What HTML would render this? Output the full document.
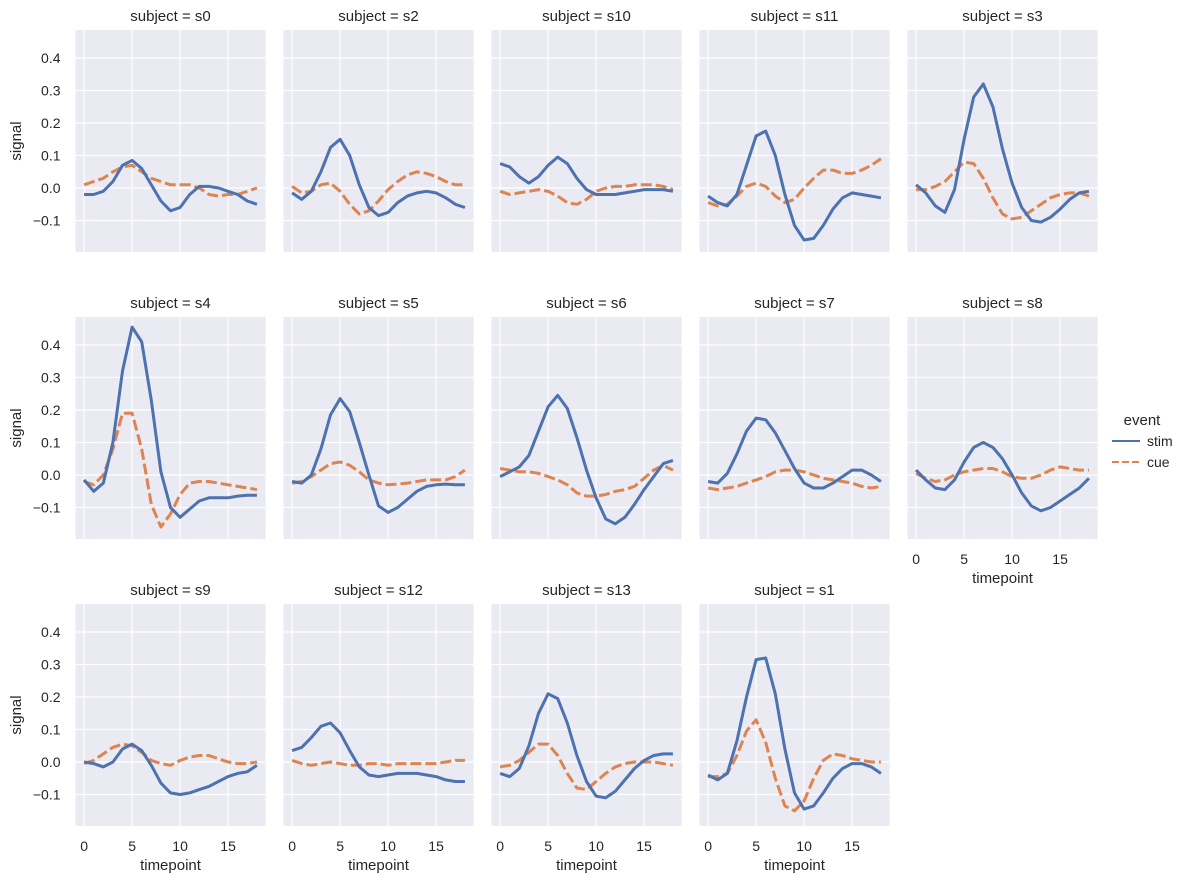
<!DOCTYPE html>
<html><head><meta charset="utf-8">
<style>
body{margin:0;background:#fff;}
svg{display:block;font-family:"Liberation Sans","DejaVu Sans",sans-serif;}
</style></head>
<body>
<svg id="chart" width="1196" height="884" viewBox="0 0 1196 884" xmlns="http://www.w3.org/2000/svg"></svg>
<script>
const timepoints = [0,1,2,3,4,5,6,7,8,9,10,11,12,13,14,15,16,17,18];
const subjects = ["s0","s2","s10","s11","s3","s4","s5","s6","s7","s8","s9","s12","s13","s1"];
const stimValues = [
 [-0.02,-0.02,-0.01,0.02,0.07,0.085,0.06,0.01,-0.04,-0.07,-0.06,-0.02,0.005,0.005,0,-0.01,-0.02,-0.04,-0.05],
 [-0.015,-0.035,-0.01,0.05,0.125,0.15,0.10,0.01,-0.06,-0.085,-0.075,-0.045,-0.025,-0.015,-0.01,-0.015,-0.03,-0.05,-0.06],
 [0.075,0.065,0.035,0.015,0.035,0.07,0.095,0.075,0.03,-0.005,-0.02,-0.02,-0.02,-0.015,-0.01,-0.005,-0.005,-0.005,-0.01],
 [-0.025,-0.045,-0.055,-0.02,0.07,0.16,0.175,0.10,-0.02,-0.115,-0.16,-0.155,-0.115,-0.065,-0.03,-0.015,-0.02,-0.025,-0.03],
 [0.01,-0.015,-0.055,-0.075,-0.005,0.15,0.28,0.32,0.25,0.12,0.015,-0.06,-0.10,-0.105,-0.09,-0.065,-0.035,-0.015,-0.01],
 [-0.015,-0.05,-0.025,0.1,0.32,0.455,0.41,0.23,0.01,-0.1,-0.13,-0.105,-0.08,-0.07,-0.07,-0.07,-0.065,-0.062,-0.062],
 [-0.02,-0.025,0.0,0.08,0.185,0.235,0.195,0.1,0.0,-0.095,-0.115,-0.1,-0.075,-0.05,-0.035,-0.03,-0.028,-0.03,-0.03],
 [-0.005,0.01,0.025,0.06,0.135,0.21,0.245,0.205,0.115,0.015,-0.07,-0.135,-0.15,-0.13,-0.09,-0.045,-0.005,0.035,0.045],
 [-0.02,-0.025,0.005,0.065,0.135,0.175,0.17,0.13,0.075,0.02,-0.025,-0.04,-0.04,-0.025,-0.005,0.015,0.015,0.0,-0.02],
 [0.015,-0.015,-0.04,-0.045,-0.015,0.04,0.085,0.1,0.085,0.05,0.0,-0.055,-0.095,-0.11,-0.1,-0.08,-0.06,-0.04,-0.01],
 [0.0,-0.005,-0.015,0.0,0.04,0.055,0.035,-0.01,-0.065,-0.095,-0.1,-0.095,-0.085,-0.075,-0.06,-0.045,-0.035,-0.03,-0.01],
 [0.035,0.045,0.075,0.11,0.12,0.09,0.035,-0.015,-0.04,-0.045,-0.04,-0.035,-0.035,-0.035,-0.04,-0.045,-0.055,-0.06,-0.06],
 [-0.035,-0.045,-0.02,0.05,0.15,0.21,0.195,0.12,0.02,-0.06,-0.105,-0.11,-0.09,-0.055,-0.02,0.005,0.02,0.025,0.025],
 [-0.04,-0.055,-0.035,0.065,0.2,0.315,0.32,0.21,0.04,-0.095,-0.145,-0.135,-0.095,-0.05,-0.02,-0.005,-0.005,-0.015,-0.035]
];
const cueValues = [
 [0.01,0.02,0.03,0.05,0.065,0.07,0.05,0.03,0.02,0.01,0.01,0.01,0,-0.02,-0.025,-0.02,-0.02,-0.01,0],
 [0.005,-0.015,-0.01,0.01,0.015,-0.01,-0.05,-0.08,-0.07,-0.04,-0.005,0.02,0.04,0.05,0.045,0.035,0.02,0.01,0.01],
 [-0.01,-0.02,-0.015,-0.01,-0.005,-0.01,-0.025,-0.045,-0.05,-0.035,-0.01,0.0,0.005,0.005,0.01,0.01,0.01,0.005,-0.005],
 [-0.045,-0.055,-0.05,-0.025,0.005,0.015,0.005,-0.025,-0.045,-0.035,0.0,0.03,0.055,0.055,0.045,0.045,0.055,0.07,0.09],
 [-0.005,-0.005,0.005,0.02,0.05,0.08,0.075,0.03,-0.03,-0.08,-0.095,-0.09,-0.07,-0.05,-0.03,-0.02,-0.015,-0.015,-0.025],
 [-0.02,-0.03,0.0,0.08,0.19,0.19,0.08,-0.09,-0.16,-0.12,-0.06,-0.025,-0.02,-0.02,-0.025,-0.03,-0.035,-0.04,-0.045],
 [-0.025,-0.02,-0.005,0.015,0.035,0.04,0.03,0.01,-0.015,-0.025,-0.03,-0.028,-0.025,-0.02,-0.015,-0.015,-0.015,-0.005,0.015],
 [0.02,0.015,0.01,0.01,0.005,-0.005,-0.015,-0.03,-0.055,-0.065,-0.065,-0.06,-0.05,-0.045,-0.035,-0.01,0.015,0.03,0.015],
 [-0.04,-0.045,-0.04,-0.035,-0.025,-0.015,-0.005,0.01,0.015,0.015,0.01,0.0,-0.01,-0.015,-0.02,-0.025,-0.035,-0.04,-0.035],
 [0.005,-0.01,-0.02,-0.015,0.0,0.01,0.015,0.02,0.02,0.01,-0.005,-0.01,-0.01,0.0,0.015,0.025,0.02,0.015,0.015],
 [-0.005,0.005,0.025,0.045,0.055,0.05,0.03,0.005,-0.005,-0.01,0.005,0.015,0.02,0.02,0.01,0.0,-0.005,-0.005,0.0],
 [0.005,-0.005,-0.01,-0.005,0.0,-0.005,-0.01,-0.01,-0.005,-0.005,-0.01,-0.005,-0.005,-0.005,-0.005,-0.005,0.0,0.005,0.005],
 [-0.015,-0.01,0.005,0.03,0.055,0.055,0.02,-0.035,-0.08,-0.085,-0.06,-0.035,-0.015,-0.005,0.0,0.0,0.0,-0.005,-0.01],
 [-0.045,-0.045,-0.035,0.02,0.095,0.13,0.06,-0.05,-0.135,-0.15,-0.12,-0.05,0.005,0.025,0.02,0.01,0.005,0.0,0.0]
];
const yTicks = [-0.1,0.0,0.1,0.2,0.3,0.4];
const yTickLabels = ["−0.1","0.0","0.1","0.2","0.3","0.4"];
const xTicks = [0,5,10,15];
const xTickLabels = ["0","5","10","15"];

const NS="http://www.w3.org/2000/svg";
const svg=document.getElementById('chart');
const PW=190, PH=222, XMIN=-0.9, XMAX=18.9, YMIN=-0.1969, YMAX=0.4862;
const rowTops=[30,317,604];
function mk(tag,attrs,parent){const e=document.createElementNS(NS,tag);for(const k in attrs)e.setAttribute(k,attrs[k]);(parent||svg).appendChild(e);return e;}
function txt(x,y,s,size,anchor,parent){const t=mk('text',{x:x,y:y,'font-size':size,fill:'#262626','text-anchor':anchor},parent);t.textContent=s;return t;}

subjects.forEach((sub,i)=>{
  const row=Math.floor(i/5), col=i%5;
  const left=75.5+208*col, top=rowTops[row];
  const sx=t=>left+(t-XMIN)/(XMAX-XMIN)*PW;
  const sy=v=>top+(YMAX-v)/(YMAX-YMIN)*PH;
  const g=mk('g',{});
  
  
  const bg=mk('rect',{x:left,y:top,width:PW,height:PH,fill:'#EAEAF2'},g);
  
  
  yTicks.forEach(v=>{const l=mk('line',{x1:left,x2:left+PW,y1:sy(v),y2:sy(v),stroke:'#fff','stroke-width':1.2},g);
    });
  xTicks.forEach(v=>{const l=mk('line',{x1:sx(v),x2:sx(v),y1:top,y2:top+PH,stroke:'#fff','stroke-width':1.2},g);
    });
  const title=txt(left+PW/2,top-9,'subject = '+sub,15,'middle',g);
  
  
  if(col===0){
    yTicks.forEach((v,k)=>{const t=txt(left-15,sy(v)+5,yTickLabels[k],14,'end',g);
      });
    const yl=txt(0,0,'signal',15,'middle',g);
    yl.setAttribute('transform','translate(21,'+(top+PH/2)+') rotate(-90)');
    
    
  }
  const showX = row===2 || (row===1 && col===4);
  if(showX){
    xTicks.forEach((v,k)=>{const t=txt(sx(v),top+PH+25,xTickLabels[k],14,'middle',g);
      });
    const xl=txt(left+PW/2,top+PH+44,'timepoint',15,'middle',g);
    
    
  }
  const stimPts=timepoints.map((t,k)=>sx(t).toFixed(1)+','+sy(stimValues[i][k]).toFixed(1)).join(' ');
  const cuePts=timepoints.map((t,k)=>sx(t).toFixed(1)+','+sy(cueValues[i][k]).toFixed(1)).join(' ');
  const cl=mk('polyline',{points:cuePts,fill:'none',stroke:'#DD8452','stroke-width':3,'stroke-dasharray':'11,4','stroke-linejoin':'round'},g);
  
  
  const sl=mk('polyline',{points:stimPts,fill:'none',stroke:'#4C72B0','stroke-width':3,'stroke-linejoin':'round'},g);
  
  
});

const lg=mk('g',{});


const lt=txt(1142,425,'event',15,'middle',lg);


const l1=mk('line',{x1:1112,x2:1140,y1:441,y2:441,stroke:'#4C72B0','stroke-width':2},lg);


const t1=txt(1147,446,'stim',14,'start',lg);


const l2=mk('line',{x1:1112,x2:1140,y1:462,y2:462,stroke:'#DD8452','stroke-width':2,'stroke-dasharray':'7,3'},lg);


const t2=txt(1147,467,'cue',14,'start',lg);


</script>
</body></html>
